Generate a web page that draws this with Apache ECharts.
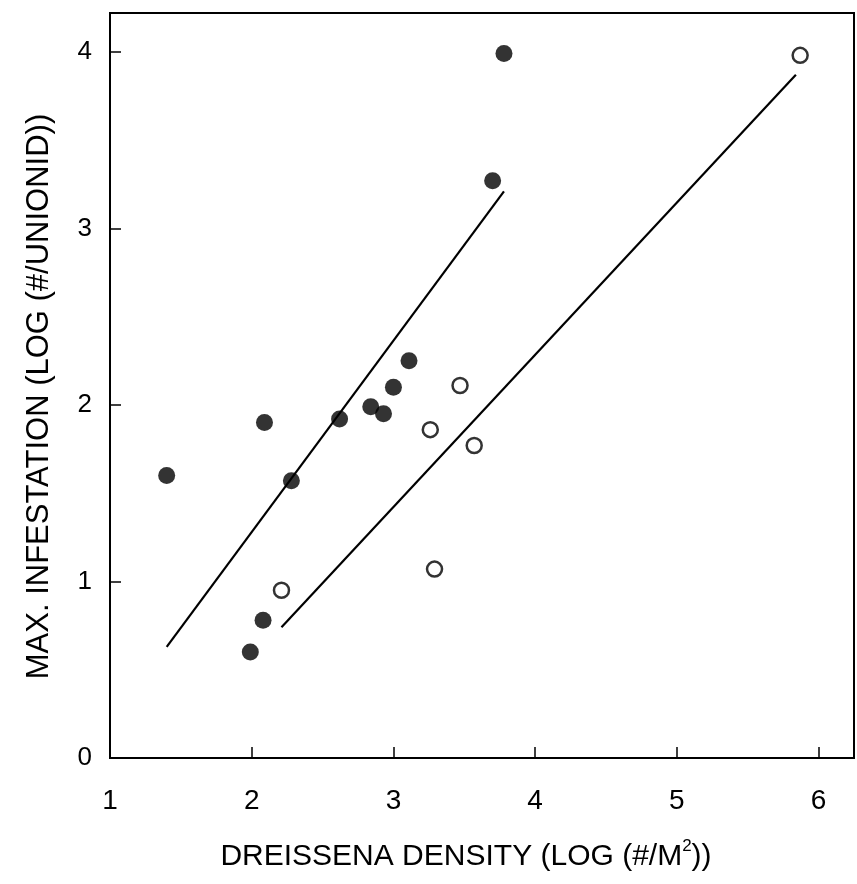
<!DOCTYPE html>
<html>
<head>
<meta charset="utf-8">
<script src="https://cdn.jsdelivr.net/npm/echarts@6/dist/echarts.min.js"></script>
<style>html,body{margin:0;padding:0;background:#fff}#c{width:857px;height:884px}</style>
</head>
<body>
<div id="c"></div>
<script>
// Log Dreissena density vs. log maximum infestation per unionid
const filledX = [1.40, 2.09, 2.28, 2.62, 2.84, 2.93, 3.00, 3.11, 3.70, 3.78, 2.08, 1.99];
const filledY = [1.60, 1.90, 1.57, 1.92, 1.99, 1.95, 2.10, 2.25, 3.27, 3.99, 0.78, 0.60];
const openX = [2.21, 3.26, 3.47, 3.57, 3.29, 5.87];
const openY = [0.95, 1.86, 2.11, 1.77, 1.07, 3.98];
// regression line end points
const fitFilledX = [1.40, 3.78];
const fitFilledY = [0.63, 3.21];
const fitOpenX = [2.21, 5.84];
const fitOpenY = [0.74, 3.87];

const pairs = (xs, ys) => xs.map((x, i) => [x, ys[i]]);
const intOnly = v => (Number.isInteger(v) ? String(v) : '');
const font = 'Liberation Sans';

const chart = echarts.init(document.getElementById('c'));
chart.setOption({
  animation: false,
  backgroundColor: '#fff',
  grid: {left: 110, right: -2, top: 13, bottom: 126, show: true, borderColor: '#000', borderWidth: 2},
  xAxis: {
    type: 'value', min: 1, max: 6.25, interval: 1,
    axisLine: {lineStyle: {color: '#000', width: 2}},
    axisTick: {inside: true, length: 11, lineStyle: {color: '#000', width: 1.5}},
    axisLabel: {color: '#000', fontFamily: font, fontSize: 28, margin: 29, formatter: intOnly},
    splitLine: {show: false},
    name: '{a|DREISSENA DENSITY (LOG (#/M}{s|2}{a|))}',
    nameLocation: 'middle', nameGap: 80,
    nameTextStyle: {padding: [0, 32, 0, 0], rich: {
      a: {fontFamily: font, fontSize: 30, color: '#000', verticalAlign: 'bottom', lineHeight: 34},
      s: {fontFamily: font, fontSize: 17, color: '#000', verticalAlign: 'top', padding: [0, 0, 16, 0], lineHeight: 34}
    }}
  },
  yAxis: {
    type: 'value', min: 0, max: 4.22, interval: 1,
    axisLine: {lineStyle: {color: '#000', width: 2}},
    axisTick: {inside: true, length: 11, lineStyle: {color: '#000', width: 1.5}},
    axisLabel: {color: '#000', fontFamily: font, fontSize: 26, margin: 18, formatter: intOnly},
    splitLine: {show: false},
    name: 'MAX. INFESTATION (LOG (#/UNIONID))',
    nameLocation: 'middle', nameGap: 55, nameRotate: 90,
    nameTextStyle: {fontFamily: font, fontSize: 31, color: '#000', padding: [0, 22, 0, 0]}
  },
  series: [
    {type: 'line', data: pairs(fitFilledX, fitFilledY), symbol: 'none',
      lineStyle: {color: '#000', width: 2.2}, z: 1},
    {type: 'line', data: pairs(fitOpenX, fitOpenY), symbol: 'none',
      lineStyle: {color: '#000', width: 2.2}, z: 1},
    {type: 'scatter', data: pairs(filledX, filledY), symbol: 'circle', symbolSize: 17,
      itemStyle: {color: '#000'}, z: 3},
    {type: 'scatter', data: pairs(openX, openY), symbol: 'circle', symbolSize: 15,
      itemStyle: {color: '#fff', borderColor: '#000', borderWidth: 2.5}, z: 3}
  ]
});
</script>
</body>
</html>
